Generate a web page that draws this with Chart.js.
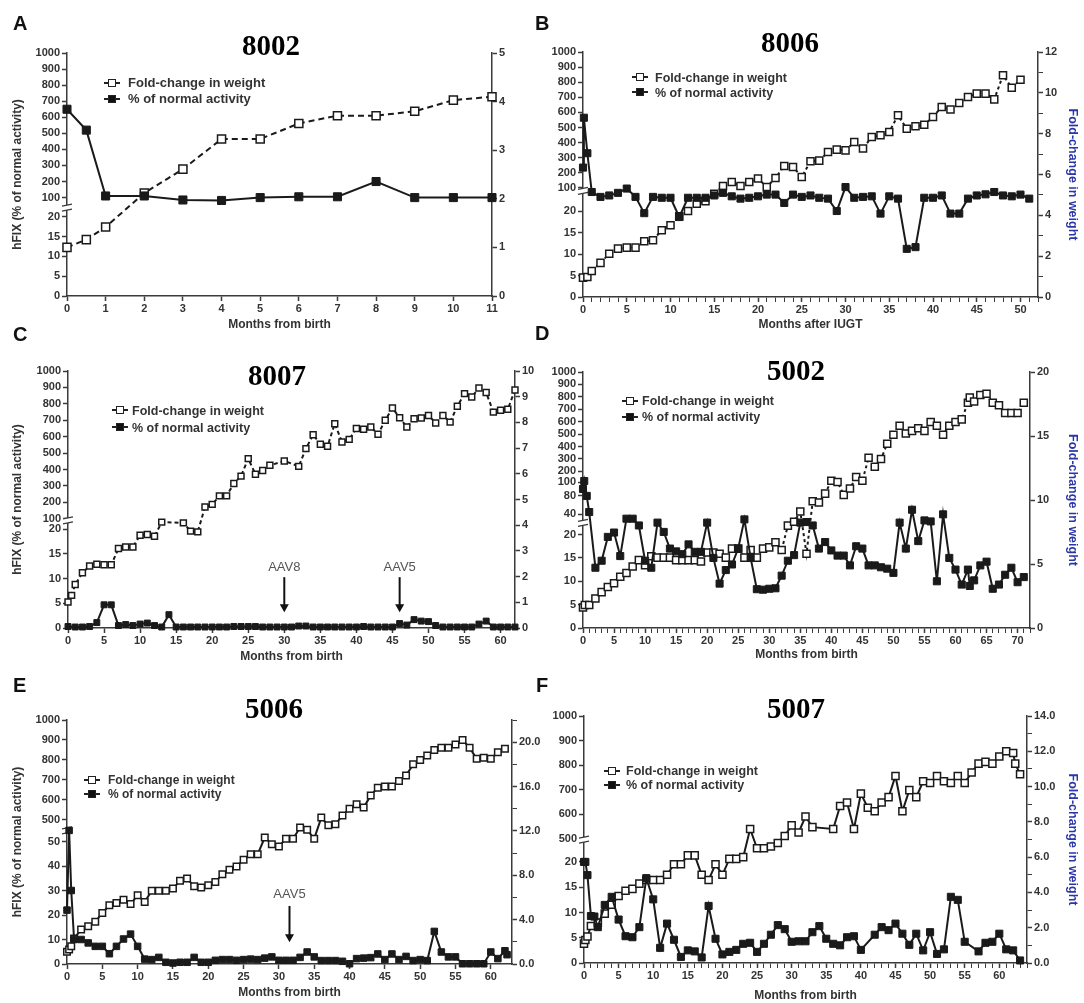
<!DOCTYPE html>
<html>
<head>
<meta charset="utf-8">
<title>hFIX activity and fold-change in weight</title>
<script src="https://cdn.jsdelivr.net/npm/chart.js@4.4.1/dist/chart.umd.min.js"></script>
<style>
  html, body { margin: 0; padding: 0; background: #fff; }
  #fig { position: relative; width: 1084px; height: 1003px; overflow: hidden; font-family: "Liberation Sans", Arial, sans-serif; }
  #fig canvas { position: absolute; }
  .letter { position: absolute; font: bold 20px/20px "Liberation Sans", Arial, sans-serif; color: #111; }
  .title { position: absolute; width: 120px; margin-left: -60px; text-align: center; font: bold 29px/29px "Liberation Serif", "Times New Roman", serif; color: #000; }
  .legend { position: absolute; font-weight: bold; color: #333; white-space: nowrap; }
  .legend div { height: var(--lh); line-height: var(--lh); }
  .mk { display: inline-block; position: relative; width: 16px; height: 10px; margin-right: var(--gap); vertical-align: middle; top: -1px; }
  .mk::before { content: ""; position: absolute; left: 0; right: 0; top: 4px; height: 2px; background: #222; }
  .mk::after { content: ""; position: absolute; left: 4px; top: 1px; width: 8px; height: 8px; box-sizing: border-box; border: 1.5px solid #222; background: #fff; }
  .mk.fill::after { background: #111; }
</style>
</head>
<body>
<div id="fig"></div>
<script>
// series names (legend)
const SERIES_NAMES = ['Fold-change in weight', '% of normal activity'];

// ---- A: 8002 ----
const monthsA = [0, 0.5, 1, 2, 3, 4, 5, 6, 7, 8, 9, 10, 11];
const hfixA = [650, 520, 110, 110, 90, 88, 100, 105, 105, 200, 100, 100, 100];
const foldA = [1.0, 1.16, 1.42, 2.12, 2.61, 3.23, 3.23, 3.55, 3.71, 3.71, 3.80, 4.03, 4.10];

// ---- B: 8006 ----
const monthsB_hfix = [0, 0.1, 0.5, 1, 2, 3, 4, 5, 6, 7, 8, 9, 10, 11, 12, 13, 14, 15, 16, 17, 18, 19, 20, 21, 22, 23, 24, 25,
  26, 27, 28, 29, 30, 31, 32, 33, 34, 35, 36, 37, 38, 39, 40, 41, 42, 43, 44, 45, 46, 47, 48, 49, 50, 51];
const hfixB = [235, 565, 330, 86, 69, 74, 83, 98, 69, 19.5, 69, 66, 66, 18.6, 66, 66, 66, 74, 83, 71, 63, 66, 71, 77, 77, 48, 77, 69,
  74, 66, 63, 20, 106, 66, 69, 71, 19.4, 71, 63, 11.2, 11.6, 66, 66, 74, 19.4, 19.4, 63, 74, 78, 86, 74, 71, 77, 63];
const monthsB_fold = [0, 0.5, 1, 2, 3, 4, 5, 6, 7, 8, 9, 10, 11, 12, 13, 14, 15, 16, 17, 18, 19, 20, 21, 22, 23, 24, 25,
  26, 27, 28, 29, 30, 31, 32, 33, 34, 35, 36, 37, 38, 39, 40, 41, 42, 43, 44, 45, 46, 47, 48, 49, 50];
const foldB = [0.95, 0.98, 1.27, 1.67, 2.12, 2.37, 2.42, 2.42, 2.73, 2.78, 3.27, 3.51, 3.95, 4.21, 4.57, 4.69, 5.06, 5.44, 5.63,
  5.44, 5.63, 5.80, 5.39, 5.83, 6.42, 6.37, 5.88, 6.65, 6.68, 7.10, 7.22, 7.18, 7.59, 7.27, 7.84, 7.92, 8.08, 8.90, 8.24, 8.36,
  8.44, 8.82, 9.31, 9.18, 9.50, 9.80, 9.96, 9.96, 9.68, 10.86, 10.25, 10.64];

// ---- C: 8007 ----
const monthsC_hfix = [0, 1, 2, 3, 4, 5, 6, 7, 8, 9, 10, 11, 12, 13, 14, 15, 16, 17, 18, 19, 20, 21, 22, 23, 24, 25, 26, 27, 28,
  29, 30, 31, 32, 33, 34, 35, 36, 37, 38, 39, 40, 41, 42, 43, 44, 45, 46, 47, 48, 49, 50, 51, 52, 53, 54, 55, 56, 57, 58, 59,
  60, 61, 62];
const hfixC = [0.3, 0.2, 0.2, 0.3, 1.1, 4.7, 4.7, 0.5, 0.7, 0.5, 0.8, 1.0, 0.5, 0.2, 2.7, 0.2, 0.2, 0.2, 0.2, 0.2, 0.2, 0.2,
  0.2, 0.3, 0.3, 0.3, 0.3, 0.2, 0.2, 0.2, 0.2, 0.2, 0.4, 0.4, 0.2, 0.2, 0.2, 0.2, 0.2, 0.2, 0.2, 0.3, 0.2, 0.2, 0.2, 0.2, 0.9,
  0.6, 1.7, 1.4, 1.3, 0.5, 0.2, 0.2, 0.2, 0.2, 0.2, 0.8, 1.4, 0.2, 0.2, 0.2, 0.2];
const monthsC_fold = [0, 0.5, 1, 2, 3, 4, 5, 6, 7, 8, 9, 10, 11, 12, 13, 16, 17, 18, 19, 20, 21, 22, 23, 24, 25, 26, 27, 28,
  30, 32, 33, 34, 35, 36, 37, 38, 39, 40, 41, 42, 43, 44, 45, 46, 47, 48, 49, 50, 51, 52, 53, 54, 55, 56, 57, 58, 59, 60, 61, 62];
const foldC = [1.01, 1.27, 1.69, 2.15, 2.41, 2.48, 2.46, 2.46, 3.09, 3.15, 3.15, 3.61, 3.64, 3.57, 4.12, 4.09, 3.77, 3.74, 4.71,
  4.81, 5.14, 5.14, 5.62, 5.91, 6.59, 5.98, 6.13, 6.33, 6.5, 6.29, 6.98, 7.52, 7.15, 7.07, 7.95, 7.24, 7.34, 7.76, 7.73, 7.82,
  7.54, 8.08, 8.56, 8.18, 7.82, 8.14, 8.17, 8.27, 7.98, 8.27, 8.01, 8.63, 9.12, 8.99, 9.34, 9.16, 8.40, 8.47, 8.51, 9.26];
const injectionsC = [{ month: 30, label: 'AAV8' }, { month: 46, label: 'AAV5' }];

// ---- D: 5002 ----
const monthsD_hfix = [0, 0.2, 0.6, 1, 2, 3, 4, 5, 6, 7, 8, 9, 10, 11, 12, 13, 14, 15, 16, 17, 18, 19, 20, 21, 22, 23, 24, 25,
  26, 27, 28, 29, 30, 31, 32, 33, 34, 35, 36, 37, 38, 39, 40, 41, 42, 43, 44, 45, 46, 47, 48, 49, 50, 51, 52, 53, 54, 55, 56,
  57, 58, 59, 60, 61, 62, 62.3, 63, 64, 65, 66, 67, 68, 69, 70, 71];
const hfixD = [90, 110, 80, 45, 12.9, 14.4, 19.5, 22, 15.4, 35.7, 35.7, 29, 14.4, 12.9, 31.8, 22.6, 17, 16.4, 15.8, 17.9, 16.3,
  16.3, 31.8, 15, 9.5, 12.4, 13.6, 17, 35, 15, 8.3, 8.2, 8.4, 8.5, 11.2, 14.4, 15.6, 31.8, 32.4, 29, 17, 18.4, 16.6, 15.5, 15.5,
  13.4, 17.5, 17, 13.4, 13.4, 13, 12.7, 11.8, 31.8, 17, 50, 18.6, 34, 33, 10, 40, 15, 12.5, 9.3, 12.5, 9, 10.2, 13.4, 14.2, 8.4,
  9.3, 11.4, 12.9, 9.8, 10.9];
const monthsD_fold = [0, 0.3, 1, 2, 3, 4, 5, 6, 7, 8, 9, 10, 11, 12, 13, 14, 15, 16, 17, 18, 19, 20, 21, 22, 23, 24, 25, 26, 27,
  28, 29, 30, 31, 32, 33, 34, 35, 36, 37, 38, 39, 40, 41, 42, 43, 44, 45, 46, 47, 48, 49, 50, 51, 52, 53, 54, 55, 56, 57, 58, 59,
  60, 61, 62, 62.3, 63, 64, 65, 66, 67, 68, 69, 70, 71];
const foldD = [1.6, 1.8, 1.8, 2.3, 2.8, 3.2, 3.5, 4.0, 4.3, 4.8, 5.3, 4.9, 5.6, 5.5, 5.5, 5.5, 5.3, 5.3, 5.3, 5.3, 5.2, 5.9, 5.9,
  5.8, 5.5, 6.2, 6.2, 5.5, 6.1, 5.5, 6.2, 6.3, 6.7, 6.1, 8.0, 8.3, 9.1, 5.8, 9.9, 9.8, 10.5, 11.5, 11.4, 10.4, 10.9, 11.8, 11.5,
  13.3, 12.6, 13.2, 14.4, 15.1, 15.8, 15.2, 15.4, 15.6, 15.4, 16.1, 15.8, 15.1, 15.8, 16.1, 16.3, 17.6, 18.0, 17.7, 18.2, 18.3,
  17.6, 17.4, 16.8, 16.8, 16.8, 17.6];

// ---- E: 5006 ----
const monthsE_hfix = [0, 0.3, 0.6, 1, 2, 3, 4, 5, 6, 7, 8, 9, 10, 11, 12, 13, 14, 15, 16, 17, 18, 19, 20, 21, 22, 23, 24, 25,
  26, 27, 28, 29, 30, 31, 32, 33, 34, 35, 36, 37, 38, 39, 40, 41, 42, 43, 44, 45, 46, 47, 48, 49, 50, 51, 52, 53, 54, 55, 56,
  57, 58, 59, 60, 61, 62, 62.3];
const hfixE = [22, 280, 30, 10, 10, 8.6, 7.2, 7.2, 4.2, 7.2, 10.2, 12.2, 7.2, 2, 1.8, 2.7, 0.7, 0.4, 0.7, 0.7, 2.7, 0.7, 0.7,
  1.5, 1.8, 1.8, 1.5, 1.8, 2, 1.8, 2.4, 2.9, 1.5, 1.5, 1.5, 2.7, 4.9, 2.9, 1.4, 1.4, 1.4, 1.1, 0.1, 2.2, 2.4, 2.6, 4.1, 1.8, 4.1,
  1.8, 3.1, 1.4, 1.8, 1.4, 13.3, 4.9, 2.9, 2.9, 0.1, 0.1, 0.1, 0.1, 4.9, 2.2, 5.4, 3.8];
const monthsE_fold = [0, 0.3, 0.6, 1, 2, 3, 4, 5, 6, 7, 8, 9, 10, 11, 12, 13, 14, 15, 16, 17, 18, 19, 20, 21, 22, 23, 24, 25,
  26, 27, 28, 29, 30, 31, 32, 33, 34, 35, 36, 37, 38, 39, 40, 41, 42, 43, 44, 45, 46, 47, 48, 49, 50, 51, 52, 53, 54, 55, 56,
  57, 58, 59, 60, 61, 62];
const foldE = [1.1, 1.3, 1.6, 2.3, 3.1, 3.4, 3.8, 4.6, 5.3, 5.5, 5.8, 5.4, 6.2, 5.6, 6.6, 6.6, 6.6, 6.8, 7.5, 7.7, 7.0, 6.9,
  7.1, 7.4, 8.1, 8.5, 8.8, 9.4, 9.9, 9.9, 11.4, 10.8, 10.6, 11.3, 11.3, 12.3, 12.1, 11.3, 13.2, 12.5, 12.6, 13.4, 14.0, 14.4,
  14.1, 15.2, 15.9, 16.0, 16.0, 16.5, 17.0, 18.0, 18.4, 18.8, 19.3, 19.5, 19.5, 19.8, 20.2, 19.5, 18.5, 18.6, 18.5, 19.1, 19.4];
const injectionsE = [{ month: 31.5, label: 'AAV5' }];

// ---- F: 5007 ----
const monthsF_hfix = [0, 0.2, 0.5, 1, 1.5, 2, 3, 4, 5, 6, 7, 8, 9, 10, 11, 12, 13, 14, 15, 16, 17, 18, 19, 20, 21, 22, 23, 24,
  25, 26, 27, 28, 29, 30, 31, 32, 33, 34, 35, 36, 37, 38, 39, 40, 42, 43, 44, 45, 46, 47, 48, 49, 50, 51, 52, 53, 54, 55, 57, 58,
  59, 60, 61, 62, 63];
const hfixF = [21.5, 20.5, 17.4, 9.3, 9.2, 7.1, 11.5, 13.1, 8.6, 5.3, 5.1, 7.1, 16.8, 12.6, 3.0, 7.8, 4.6, 1.2, 2.5, 2.3, 1.1,
  11.3, 4.8, 1.7, 2.2, 2.6, 3.8, 4.0, 2.2, 3.8, 5.6, 7.5, 6.7, 4.2, 4.3, 4.3, 6.1, 7.3, 4.8, 3.8, 3.5, 5.1, 5.3, 2.6, 5.6, 7.1,
  6.5, 7.8, 5.8, 3.6, 5.8, 2.5, 6.1, 1.8, 2.7, 13.1, 12.5, 4.2, 2.3, 4.0, 4.2, 5.8, 2.7, 2.5, 0.5];
const monthsF_fold = [0, 0.2, 0.5, 1, 2, 3, 4, 5, 6, 7, 8, 9, 10, 11, 12, 13, 14, 15, 16, 17, 18, 19, 20, 21, 22, 23, 24, 25,
  26, 27, 28, 29, 30, 31, 32, 33, 36, 37, 38, 39, 40, 41, 42, 43, 44, 45, 46, 47, 48, 49, 50, 51, 52, 53, 54, 55, 56, 57, 58,
  59, 60, 61, 62, 62.3, 63];
const foldF = [1.1, 1.3, 1.5, 2.1, 2.3, 2.8, 3.3, 3.8, 4.1, 4.2, 4.5, 4.7, 4.7, 4.7, 5.0, 5.6, 5.6, 6.1, 6.1, 5.0, 4.7, 5.6,
  5.0, 5.9, 5.9, 6.0, 7.6, 6.5, 6.5, 6.6, 6.8, 7.2, 7.8, 7.4, 8.3, 7.7, 7.6, 8.9, 9.1, 7.6, 9.6, 8.8, 8.6, 9.1, 9.4, 10.6, 8.6,
  9.8, 9.4, 10.3, 10.2, 10.6, 10.3, 10.2, 10.6, 10.2, 10.8, 11.3, 11.4, 11.3, 11.7, 12.0, 11.9, 11.3, 10.7];

// ---- tick labels ----
const hfixTicksStd = [0, 5, 10, 15, 20, 100, 200, 300, 400, 500, 600, 700, 800, 900, 1000];
const hfixTicksD = [0, 5, 10, 15, 20, 40, 80, 100, 200, 300, 400, 500, 600, 700, 800, 900, 1000];
const hfixTicksE = [0, 10, 20, 30, 40, 50, 500, 600, 700, 800, 900, 1000];
const hfixTicksF = [0, 5, 10, 15, 20, 500, 600, 700, 800, 900, 1000];

const foldLabelsA = [0, 1, 2, 3, 4, 5];
const foldLabelsB = [0, 2, 4, 6, 8, 10, 12];
const foldLabelsC = [0, 1, 2, 3, 4, 5, 6, 7, 8, 9, 10];
const foldLabelsD = [0, 5, 10, 15, 20];
const foldLabelsE = [0, 4, 8, 12, 16, 20];
const foldLabelsF = [0, 2, 4, 6, 8, 10, 12, 14];

const monthLabelsA = [0, 1, 2, 3, 4, 5, 6, 7, 8, 9, 10, 11];
const monthLabelsB = [0, 5, 10, 15, 20, 25, 30, 35, 40, 45, 50];
const monthLabels60 = [0, 5, 10, 15, 20, 25, 30, 35, 40, 45, 50, 55, 60];
const monthLabelsD = [0, 5, 10, 15, 20, 25, 30, 35, 40, 45, 50, 55, 60, 65, 70];

// minor tick positions
const steps = (a, b, s) => { const out = []; for (let v = a; v <= b + 1e-9; v += s) out.push(+v.toFixed(6)); return out; };

const INK = '#1a1a1a';
const AXIS = '#3a3a3a';
const TEXT = '#333';
const BLUE = '#2a36a8';
const SANS = '"Liberation Sans", Arial, sans-serif';
const tickFont = { family: SANS, size: 11, weight: 'bold' };
const titleFont = { family: SANS, size: 12, weight: 'bold' };

const toPoints = (xs, ys) => xs.map((x, i) => ({ x: x, y: ys[i] }));

// piecewise mapping for the broken hFIX axis
function toFrac(anchors, v) {
    if (v <= anchors[0][0]) return anchors[0][1];
    for (let i = 1; i < anchors.length; i++) {
        const [v0, f0] = anchors[i - 1];
        const [v1, f1] = anchors[i];
        if (v <= v1) return f0 + (v - v0) / (v1 - v0) * (f1 - f0);
    }
    return anchors[anchors.length - 1][1];
}
function fromFrac(anchors, f) {
    for (let i = 1; i < anchors.length; i++) {
        const [v0, f0] = anchors[i - 1];
        const [v1, f1] = anchors[i];
        if (f <= f1) return v0 + (f - f0) / (f1 - f0) * (v1 - v0);
    }
    return anchors[anchors.length - 1][0];
}

const brokenAxes = {};

class BrokenScale extends Chart.LinearScale {
    static id = 'broken';
    static defaults = {};
    determineDataLimits() {
        const a = brokenAxes[this.chart.canvas.id].anchors;
        this.min = a[0][0];
        this.max = a[a.length - 1][0];
    }
    buildTicks() {
        return brokenAxes[this.chart.canvas.id].ticks.map(v => ({ value: v }));
    }
    getPixelForValue(v) {
        return this.getPixelForDecimal(toFrac(brokenAxes[this.chart.canvas.id].anchors, v));
    }
    getValueForPixel(px) {
        return fromFrac(brokenAxes[this.chart.canvas.id].anchors, this.getDecimalForPixel(px));
    }
}
Chart.register(BrokenScale);

// axis break mark + injection arrows
const extras = {
    id: 'extras',
    beforeDatasetsDraw(chart, args, opts) {
        if (opts.breakAt == null) return;
        const ctx = chart.ctx;
        const px = chart.chartArea.left;
        const py = chart.scales.y.getPixelForValue(opts.breakAt);
        ctx.save();
        ctx.fillStyle = '#fff';
        ctx.fillRect(px - 6, py - 2.5, 12, 5);
        ctx.strokeStyle = AXIS;
        ctx.lineWidth = 1.3;
        ctx.beginPath();
        ctx.moveTo(px - 5, py - 1.5); ctx.lineTo(px + 5, py - 3.5);
        ctx.moveTo(px - 5, py + 3.5); ctx.lineTo(px + 5, py + 1.5);
        ctx.stroke();
        ctx.restore();
    },
    afterDatasetsDraw(chart, args, opts) {
        if (!opts.arrows) return;
        const ctx = chart.ctx;
        const xS = chart.scales.x, yS = chart.scales.y;
        opts.arrows.forEach(a => {
            const x = xS.getPixelForValue(a.month);
            const y0 = yS.getPixelForValue(opts.arrowTop);
            const y1 = yS.getPixelForValue(opts.arrowTip);
            ctx.save();
            ctx.strokeStyle = '#111';
            ctx.fillStyle = '#111';
            ctx.lineWidth = 2;
            ctx.beginPath();
            ctx.moveTo(x, y0); ctx.lineTo(x, y1 - 7);
            ctx.stroke();
            ctx.beginPath();
            ctx.moveTo(x - 4.5, y1 - 8); ctx.lineTo(x + 4.5, y1 - 8); ctx.lineTo(x, y1);
            ctx.closePath();
            ctx.fill();
            ctx.font = '13px ' + SANS;
            ctx.fillStyle = '#555';
            ctx.textAlign = 'center';
            ctx.textBaseline = 'middle';
            ctx.fillText(a.label, x, yS.getPixelForValue(opts.labelAt));
            ctx.restore();
        });
    }
};

const panels = [
    {
        key: 'A', letter: [13, 13], title: '8002', titleAt: [271, 30.7],
        box: [0, 0, 540, 335], area: [67, 53, 492, 296],
        hfix: toPoints(monthsA, hfixA), fold: toPoints(monthsA, foldA),
        anchors: [[0, 0], [20, 0.326], [100, 0.405], [1000, 1]], hfixTicks: hfixTicksStd, breakAt: 58,
        right: { max: 5, ticks: foldLabelsA, labels: foldLabelsA, digits: 0, title: null },
        x: { max: 11, ticks: monthLabelsA, labels: monthLabelsA, title: 'Months from birth', pad: 2.8 },
        leftTitle: true, dash: [6, 4], radius: 5.7,
        legend: { x: 104, y: 75, lh: 16, gap: 8, size: 13 }
    },
    {
        key: 'B', letter: [535, 13], title: '8006', titleAt: [790, 27.7],
        box: [540, 0, 544, 335], area: [583, 52, 1038, 297],
        hfix: toPoints(monthsB_hfix, hfixB), fold: toPoints(monthsB_fold, foldB),
        anchors: [[0, 0], [20, 0.351], [100, 0.445], [1000, 1]], hfixTicks: hfixTicksStd, breakAt: 90,
        right: { max: 12, ticks: steps(0, 12, 1), labels: foldLabelsB, digits: 0, title: 'Fold-change in weight' },
        x: { max: 52, ticks: steps(0, 52, 1), labels: monthLabelsB, title: 'Months after IUGT', pad: 2.8 },
        leftTitle: false, dash: [3, 3], radius: 5,
        legend: { x: 632, y: 70.5, lh: 15, gap: 7, size: 12.5 }
    },
    {
        key: 'C', letter: [13, 324], title: '8007', titleAt: [277, 360.7],
        box: [0, 335, 540, 330], area: [68, 371, 515, 628],
        hfix: toPoints(monthsC_hfix, hfixC), fold: toPoints(monthsC_fold, foldC),
        anchors: [[0, 0], [20, 0.384], [100, 0.425], [1000, 1]], hfixTicks: hfixTicksStd, breakAt: 87,
        right: { max: 10, ticks: foldLabelsC, labels: foldLabelsC, digits: 0, title: null },
        x: { max: 62, ticks: monthLabels60, labels: monthLabels60, title: 'Months from birth', pad: 0.8 },
        leftTitle: true, dash: [4, 3], radius: 4.2,
        arrows: injectionsC, arrowTop: 10.3, arrowTip: 3.2, labelAt: 12.2,
        legend: { x: 112, y: 402.5, lh: 17, gap: 4, size: 12.5 }
    },
    {
        key: 'D', letter: [535, 323], title: '5002', titleAt: [796, 355.7],
        box: [540, 335, 544, 330], area: [583, 372, 1030, 628],
        hfix: toPoints(monthsD_hfix, hfixD), fold: toPoints(monthsD_fold, foldD),
        anchors: [[0, 0], [20, 0.365], [40, 0.444], [80, 0.516], [100, 0.570], [200, 0.612], [1000, 1]],
        hfixTicks: hfixTicksD, breakAt: 31.5,
        right: { max: 20, ticks: foldLabelsD, labels: foldLabelsD, digits: 0, title: 'Fold-change in weight' },
        x: { max: 72, ticks: steps(0, 72, 1), labels: monthLabelsD, title: 'Months from birth', pad: 2.8 },
        leftTitle: false, dash: [3, 3], radius: 5,
        legend: { x: 622, y: 393, lh: 16, gap: 4, size: 12.5 }
    },
    {
        key: 'E', letter: [13, 675], title: '5006', titleAt: [274, 693.7],
        box: [0, 665, 540, 338], area: [67, 720, 512, 964],
        hfix: toPoints(monthsE_hfix, hfixE), fold: toPoints(monthsE_fold, foldE),
        anchors: [[0, 0], [50, 0.502], [500, 0.591], [1000, 1]], hfixTicks: hfixTicksE, breakAt: 279,
        right: { max: 22, ticks: steps(0, 22, 2), labels: foldLabelsE, digits: 1, title: null },
        x: { max: 63, ticks: monthLabels60, labels: monthLabels60, title: 'Months from birth', pad: 2.8 },
        leftTitle: true, dash: [], radius: 4.6,
        arrows: injectionsE, arrowTop: 23.7, arrowTip: 8.9, labelAt: 28.6,
        legend: { x: 84, y: 773, lh: 14, gap: 8, size: 12 }
    },
    {
        key: 'F', letter: [536, 675], title: '5007', titleAt: [796, 693.7],
        box: [540, 665, 544, 338], area: [584, 716, 1027, 963],
        hfix: toPoints(monthsF_hfix, hfixF), fold: toPoints(monthsF_fold, foldF),
        anchors: [[0, 0], [20, 0.409], [500, 0.503], [1000, 1]], hfixTicks: hfixTicksF, breakAt: 480,
        right: { max: 14, ticks: steps(0, 14, 1), labels: foldLabelsF, digits: 1, title: 'Fold-change in weight' },
        x: { max: 64, ticks: steps(0, 64, 1), labels: monthLabels60, title: 'Months from birth', pad: 0 },
        leftTitle: false, dash: [], radius: 5,
        legend: { x: 604, y: 764, lh: 14, gap: 6, size: 12.5 }
    }
];

const fig = document.getElementById('fig');

function addText(cls, text, left, top) {
    const el = document.createElement('div');
    el.className = cls;
    el.textContent = text;
    el.style.left = left + 'px';
    el.style.top = top + 'px';
    fig.appendChild(el);
    return el;
}

panels.forEach(p => {
    const [bx, by, bw, bh] = p.box;
    const [l, t, r, b] = p.area;
    const L = l - bx, R = bx + bw - r, T = t - by, B = by + bh - b;

    const canvas = document.createElement('canvas');
    canvas.id = 'chart' + p.key;
    canvas.width = bw;
    canvas.height = bh;
    canvas.style.left = bx + 'px';
    canvas.style.top = by + 'px';
    fig.appendChild(canvas);
    brokenAxes[canvas.id] = { anchors: p.anchors, ticks: p.hfixTicks };

    addText('letter', p.key, p.letter[0], p.letter[1]);
    addText('title', p.title, p.titleAt[0], p.titleAt[1]);

    const lg = document.createElement('div');
    lg.className = 'legend';
    lg.style.cssText = `left:${p.legend.x}px;top:${p.legend.y}px;--lh:${p.legend.lh}px;--gap:${p.legend.gap}px;font-size:${p.legend.size}px`;
    lg.innerHTML = `<div><span class="mk"></span>${SERIES_NAMES[0]}</div><div><span class="mk fill"></span>${SERIES_NAMES[1]}</div>`;
    fig.appendChild(lg);

    const gridOpts = (labels) => ({
        drawOnChartArea: false,
        tickLength: 5,
        tickColor: AXIS,
        tickWidth: c => (labels.includes(c.tick && c.tick.value) ? 1.5 : 1)
    });

    new Chart(canvas, {
        type: 'line',
        data: {
            datasets: [
                {
                    label: SERIES_NAMES[1],
                    data: p.hfix,
                    yAxisID: 'y',
                    borderColor: INK,
                    borderWidth: 2,
                    pointStyle: 'rect',
                    pointRadius: p.radius,
                    pointBackgroundColor: INK,
                    pointBorderColor: INK,
                    pointBorderWidth: 1,
                    tension: 0,
                    clip: false
                },
                {
                    label: SERIES_NAMES[0],
                    data: p.fold,
                    yAxisID: 'y2',
                    borderColor: INK,
                    borderWidth: 2,
                    borderDash: p.dash,
                    pointStyle: 'rect',
                    pointRadius: p.radius,
                    pointBackgroundColor: '#fff',
                    pointBorderColor: INK,
                    pointBorderWidth: 1.5,
                    tension: 0,
                    clip: false
                }
            ]
        },
        options: {
            responsive: false,
            animation: false,
            events: [],
            layout: { padding: { top: T, left: 0, right: 0, bottom: 0 } },
            plugins: {
                legend: { display: false },
                tooltip: { enabled: false },
                extras: { breakAt: p.breakAt, arrows: p.arrows, arrowTop: p.arrowTop, arrowTip: p.arrowTip, labelAt: p.labelAt }
            },
            scales: {
                x: {
                    type: 'linear',
                    min: 0,
                    max: p.x.max,
                    afterBuildTicks: s => { s.ticks = p.x.ticks.map(v => ({ value: v })); },
                    afterFit: s => { s.height = B; },
                    ticks: {
                        autoSkip: false, maxRotation: 0, padding: 1,
                        font: tickFont, color: TEXT,
                        callback: v => (p.x.labels.includes(v) ? String(v) : '')
                    },
                    grid: gridOpts(p.x.labels),
                    border: { display: true, color: AXIS, width: 1.5 },
                    title: { display: true, text: p.x.title, font: titleFont, color: TEXT, padding: { top: 0, bottom: p.x.pad } }
                },
                y: {
                    type: 'broken',
                    position: 'left',
                    afterFit: s => { s.width = L; },
                    ticks: { autoSkip: false, padding: 2, font: tickFont, color: TEXT, callback: v => String(v) },
                    grid: gridOpts(p.hfixTicks),
                    border: { display: true, color: AXIS, width: 1.5 },
                    title: {
                        display: p.leftTitle, text: 'hFIX (% of normal activity)',
                        font: titleFont, color: TEXT, padding: { top: 10, bottom: 0 }
                    }
                },
                y2: {
                    type: 'linear',
                    position: 'right',
                    min: 0,
                    max: p.right.max,
                    afterBuildTicks: s => { s.ticks = p.right.ticks.map(v => ({ value: v })); },
                    afterFit: s => { s.width = R; },
                    ticks: {
                        autoSkip: false, padding: 2, font: tickFont, color: TEXT,
                        callback: v => (p.right.labels.includes(v) ? v.toFixed(p.right.digits) : '')
                    },
                    grid: gridOpts(p.right.labels),
                    border: { display: true, color: AXIS, width: 1.5 },
                    title: {
                        display: !!p.right.title, text: p.right.title || '',
                        font: { family: SANS, size: 12.5, weight: 'bold' }, color: BLUE, padding: { top: 4, bottom: 0 }
                    }
                }
            }
        },
        plugins: [extras]
    });
});
</script>
</body>
</html>
